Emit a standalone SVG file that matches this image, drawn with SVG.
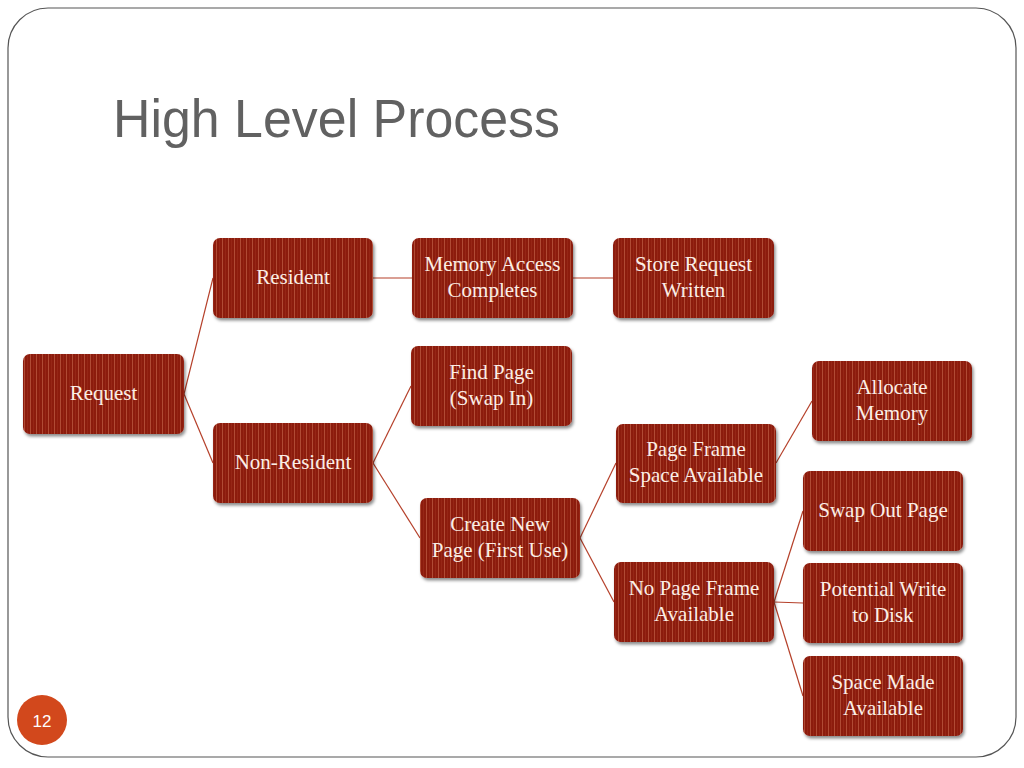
<svg xmlns="http://www.w3.org/2000/svg" width="1024" height="768" viewBox="0 0 1024 768">
<defs>
<pattern id="stripes" width="6" height="10" patternUnits="userSpaceOnUse">
<rect width="6" height="10" fill="#8c1a0b"/>
<rect x="0" width="1" height="10" fill="#b04c36"/>
<rect x="3" width="1" height="10" fill="#962717"/>
</pattern>
<filter id="sh" x="-10%" y="-10%" width="130%" height="140%">
<feDropShadow dx="1.5" dy="2.5" stdDeviation="1.8" flood-color="#000" flood-opacity="0.45"/>
</filter>
</defs>
<style>
.node rect{fill:url(#stripes);filter:url(#sh)}
.node text{font-family:"Liberation Serif","Times New Roman",serif;font-size:21px;fill:#fbeee6;text-anchor:middle}
.conn line{stroke:#b5402a;stroke-width:1.2}
</style>
<rect width="1024" height="768" fill="#fff"/>
<rect x="8" y="8" width="1008" height="749" rx="40" ry="40" fill="none" stroke="#555" stroke-width="1.2"/>
<text x="113" y="137" font-family="Liberation Sans, Arial, sans-serif" font-size="53" fill="#616161" textLength="447" lengthAdjust="spacingAndGlyphs">High Level Process</text>
<g id="page-number">
<circle cx="42" cy="720" r="25" fill="#d2481c"/>
<text x="42" y="727" font-family="Liberation Sans, Arial, sans-serif" font-size="17" fill="#fff" text-anchor="middle">12</text>
</g>
<g id="connectors" class="conn">
<line x1="184" y1="394" x2="213" y2="278"/>
<line x1="184" y1="394" x2="213" y2="463"/>
<line x1="373" y1="278" x2="412" y2="278"/>
<line x1="573" y1="278" x2="613" y2="278"/>
<line x1="373" y1="463" x2="411" y2="386"/>
<line x1="373" y1="463" x2="420" y2="538"/>
<line x1="580" y1="538" x2="616" y2="463"/>
<line x1="580" y1="538" x2="614" y2="602"/>
<line x1="776" y1="463" x2="812" y2="401"/>
<line x1="774" y1="602" x2="803" y2="511"/>
<line x1="774" y1="602" x2="803" y2="603"/>
<line x1="774" y1="602" x2="803" y2="696"/>
</g>
<g id="request" class="node"><rect x="23" y="354" width="161" height="80" rx="7"/><text x="103.5" y="400">Request</text></g>
<g id="resident" class="node"><rect x="213" y="238" width="160" height="80" rx="7"/><text x="293" y="284">Resident</text></g>
<g id="non-resident" class="node"><rect x="213" y="423" width="160" height="80" rx="7"/><text x="293" y="469">Non-Resident</text></g>
<g id="memory-access" class="node"><rect x="412" y="238" width="161" height="80" rx="7"/><text x="492.5" y="271">Memory Access</text><text x="492.5" y="297">Completes</text></g>
<g id="store-request" class="node"><rect x="613" y="238" width="161" height="80" rx="7"/><text x="693.5" y="271">Store Request</text><text x="693.5" y="297">Written</text></g>
<g id="find-page" class="node"><rect x="411" y="346" width="161" height="80" rx="7"/><text x="491.5" y="379">Find Page</text><text x="491.5" y="405">(Swap In)</text></g>
<g id="create-new-page" class="node"><rect x="420" y="498" width="160" height="80" rx="7"/><text x="500" y="531">Create New</text><text x="500" y="557">Page (First Use)</text></g>
<g id="page-frame-space" class="node"><rect x="616" y="424" width="160" height="79" rx="7"/><text x="696" y="456">Page Frame</text><text x="696" y="482">Space Available</text></g>
<g id="allocate-memory" class="node"><rect x="812" y="361" width="160" height="80" rx="7"/><text x="892" y="394">Allocate</text><text x="892" y="420">Memory</text></g>
<g id="no-page-frame" class="node"><rect x="614" y="562" width="160" height="80" rx="7"/><text x="694" y="595">No Page Frame</text><text x="694" y="621">Available</text></g>
<g id="swap-out" class="node"><rect x="803" y="471" width="160" height="80" rx="7"/><text x="883" y="517">Swap Out Page</text></g>
<g id="potential-write" class="node"><rect x="803" y="563" width="160" height="80" rx="7"/><text x="883" y="596">Potential Write</text><text x="883" y="622">to Disk</text></g>
<g id="space-made" class="node"><rect x="803" y="656" width="160" height="80" rx="7"/><text x="883" y="689">Space Made</text><text x="883" y="715">Available</text></g>
</svg>
